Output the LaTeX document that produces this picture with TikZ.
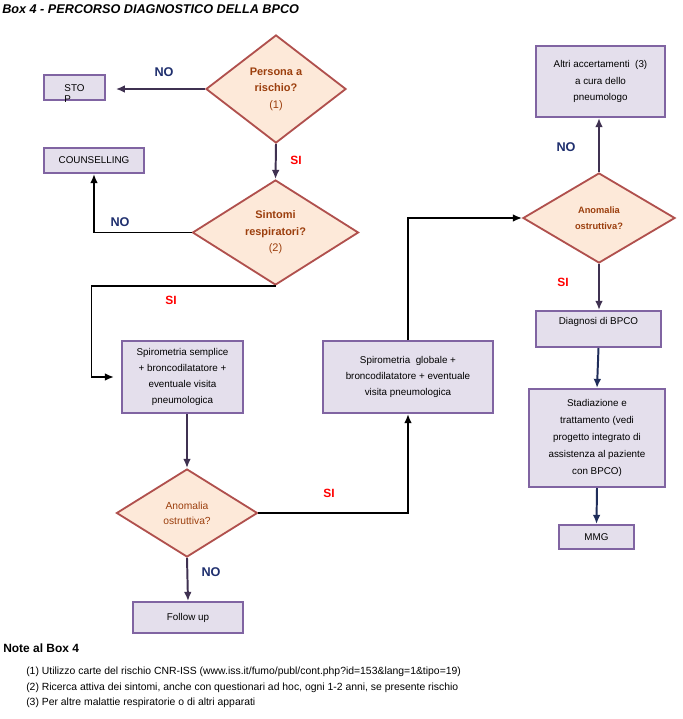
\documentclass[tikz,border=0pt]{standalone}
\usepackage{fontspec}
\setmainfont{Liberation Sans}
\usetikzlibrary{shapes.geometric, arrows.meta}
\definecolor{box-fill}{HTML}{E4DFEC}
\definecolor{box-line}{HTML}{8064A2}
\definecolor{dec-fill}{HTML}{FDE9D9}
\definecolor{dec-line}{HTML}{B0504D}
\definecolor{dec-text}{HTML}{9C3F0E}
\definecolor{arrow-dark}{HTML}{3F3151}
\definecolor{arrow-navy}{HTML}{1F2D5A}
\definecolor{label-no}{HTML}{1F2F6E}
\definecolor{label-si}{HTML}{FF0000}

\begin{document}
\begin{tikzpicture}[x=0.025cm, y=-0.025cm,
      proc/.style={draw=box-line, line width=1.4pt, fill=box-fill, align=center,
        inner sep=2pt, font=\fontsize{7}{11.5}\selectfont},
      dec/.style={diamond, draw=dec-line, line width=1.3pt, fill=dec-fill,
        align=center, inner sep=0pt, text=dec-text},
      lblno/.style={font=\fontsize{9}{10}\selectfont\bfseries, text=label-no},
      lblsi/.style={font=\fontsize{8.5}{10}\selectfont\bfseries, text=label-si},
      link/.style={-{Latex[length=6.5pt, width=5.5pt]}, line width=1.4pt, arrow-dark}]
    \useasboundingbox (0,0) rectangle (683,719);
    \node[anchor=west, inner sep=0pt, font=\fontsize{9}{10}\selectfont\bfseries\itshape]
          (TT) at (2,9) {Box 4 - PERCORSO DIAGNOSTICO DELLA BPCO};
    % left column
    \node[dec, minimum width=3.5cm, minimum height=2.7cm,
          font=\fontsize{7.8}{11.7}\selectfont] (D1) at (276,89)
          {\textbf{Persona a}\\\textbf{rischio?}\\(1)};
    \node[proc, minimum width=1.525cm, minimum height=0.625cm] (STOP) at (74.5,87.5)
          {\raisebox{-11pt}[0pt][0pt]{\shortstack[l]{STO\\P}}};
    \node[proc, minimum width=2.5cm, minimum height=0.625cm] (CO) at (94,160.5)
          {COUNSELLING};
    \node[dec, minimum width=4.15cm, minimum height=2.625cm,
          font=\fontsize{7.8}{11.7}\selectfont] (D2) at (275.5,232.5)
          {\textbf{Sintomi}\\\textbf{respiratori?}\\(2)};
    \node[proc, minimum width=3.025cm, minimum height=1.8cm] (SS) at (182.5,377)
          {Spirometria semplice\\+ broncodilatatore +\\eventuale visita\\pneumologica};
    \node[dec, minimum width=3.525cm, minimum height=2.2cm,
          font=\fontsize{7.3}{10.7}\selectfont] (D3) at (187,513)
          {Anomalia\\ostruttiva?};
    \node[proc, minimum width=2.75cm, minimum height=0.775cm] (FU) at (188,617.5)
          {Follow up};
    % right column
    \node[proc, minimum width=4.25cm, minimum height=1.8cm] (SG) at (408,377)
          {Spirometria\ \ globale +\\broncodilatatore + eventuale\\visita pneumologica};
    \node[dec, minimum width=3.8cm, minimum height=2.25cm,
          font=\fontsize{6.6}{11}\selectfont\bfseries] (D4) at (599,218)
          {Anomalia\\ostruttiva?};
    \node[proc, minimum width=3.225cm, minimum height=1.775cm] (AA) at (600.5,81.5)
          {Altri accertamenti\ \ (3)\\a cura dello\\pneumologo};
    \node[proc, minimum width=3.125cm, minimum height=0.9cm, text depth=12pt]
          (DB) at (598.5,329) {Diagnosi di BPCO};
    \node[proc, minimum width=3.4cm, minimum height=2.45cm, font=\fontsize{7}{12}\selectfont]
          (ST) at (597,438)
          {Stadiazione e\\trattamento (vedi\\progetto integrato di\\assistenza al paziente\\con BPCO)};
    \node[proc, minimum width=1.875cm, minimum height=0.6cm] (MMG) at (596.5,537) {MMG};
    % connectors
    \draw[link, shorten >=7pt] (D1.west) -- (D1.west -| STOP.east);
    \draw[link] (D1.south) -- (D2.north);
    \draw[link, black] (D2.west) -| (CO.south);
    \draw[link, black, shorten >=5pt] (D2.south) -- ++(-184,0) |- (SS.west);
    \draw[link] (SS.south -| D3.north) -- (D3.north);
    \draw[link] (D3.south) -- (FU.north);
    \draw[link, black] (D3.east) -| (SG.south);
    \draw[link, black] (SG.north) |- (D4.west);
    \draw[link] (D4.north) -- (D4.north |- AA.south);
    \draw[link] (D4.south) -- (D4.south |- DB.north);
    \draw[link, arrow-navy] (DB.south) -- (ST.north);
    \draw[link, arrow-navy] (ST.south) -- (MMG.north);
    % branch labels
    \node[lblno] (N1) at (164,72) {NO};
    \node[lblsi] (S1) at (296,160) {SI};
    \node[lblno] (N2) at (120,222) {NO};
    \node[lblsi] (S2) at (171,300) {SI};
    \node[lblno] (N3) at (211,572) {NO};
    \node[lblsi] (S3) at (329,493) {SI};
    \node[lblno] (N4) at (566,147) {NO};
    \node[lblsi] (S4) at (563,282) {SI};
    % notes
    \node[anchor=west, inner sep=0pt, font=\fontsize{8.5}{10}\selectfont\bfseries]
          (NH) at (3,648) {Note al Box 4};
    \node[anchor=west, inner sep=0pt, font=\fontsize{7.4}{8}\selectfont] (NT1) at (26,672)
          {(1) Utilizzo carte del rischio CNR-ISS (www.iss.it/fumo/publ/cont.php?id=153\&lang=1\&tipo=19)};
    \node[anchor=west, inner sep=0pt, font=\fontsize{7.4}{8}\selectfont] (NT2) at (26,688)
          {(2) Ricerca attiva dei sintomi, anche con questionari ad hoc, ogni 1-2 anni, se presente rischio};
    \node[anchor=west, inner sep=0pt, font=\fontsize{7.4}{8}\selectfont] (NT3) at (26,703)
          {(3) Per altre malattie respiratorie o di altri apparati};
  \end{tikzpicture}
\end{document}
